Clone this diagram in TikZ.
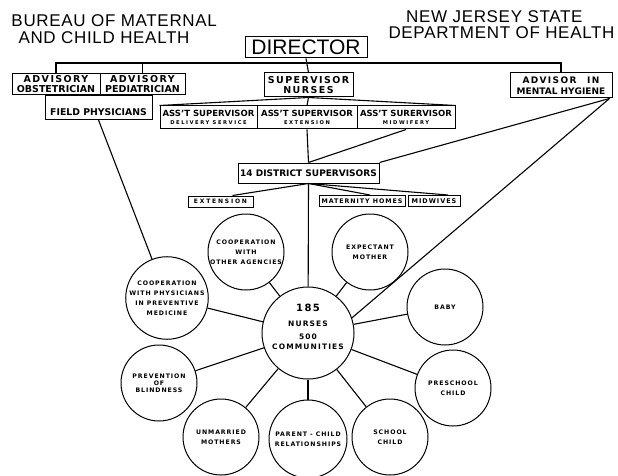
\documentclass[tikz,border=0pt]{standalone}
\usepackage{fontspec}
\setmainfont{DejaVu Sans}
\newfontfamily\titlefont[LetterSpace=4]{Liberation Sans}
\newfontfamily\dirfont{Liberation Sans}
\newfontfamily\spfont[LetterSpace=15]{DejaVu Sans}
\newfontfamily\spwide[LetterSpace=30]{DejaVu Sans}
\begin{document}
\begin{tikzpicture}[x=1pt,y=-1pt,line width=1pt,
  ttl/.style={inner sep=0pt,font=\titlefont\fontsize{17}{19}\selectfont},
  box/.style={draw,inner sep=0pt,align=center,font=\bfseries\fontsize{9.5}{10}\selectfont},
  asst/.style={draw,inner sep=0pt,align=center,minimum height=23pt,font=\bfseries\fontsize{8.5}{11}\selectfont},
  tag/.style={draw,inner sep=0pt,align=center,minimum height=11pt,font=\bfseries\fontsize{6.3}{7}\selectfont\spfont},
  circ/.style={draw,circle,minimum size=76pt,inner sep=0pt,align=center,font=\bfseries\fontsize{6.2}{10}\selectfont\spfont},
  wire/.style={line width=1.1pt}]
\useasboundingbox (0,0) rectangle (618,476);
% titles
\node[ttl,anchor=west] (t1) at (11,21) {BUREAU OF MATERNAL};
\node[ttl,anchor=west] (t2) at (18,38) {AND CHILD HEALTH};
\node[ttl,anchor=east] (t3) at (583,17) {NEW JERSEY STATE};
\node[ttl,anchor=east] (t4) at (615,33) {DEPARTMENT OF HEALTH};
% top level
\node[draw,minimum width=122pt,minimum height=21pt,inner sep=0pt,font=\dirfont\fontsize{21}{21}\selectfont] (dir) at (306,47.5) {DIRECTOR};
\node[box,minimum width=88pt,minimum height=21pt] (obs) at (56,84.5) {{\spfont ADVISORY}\\OBSTETRICIAN};
\node[box,minimum width=85pt,minimum height=21pt] (ped) at (142.5,84.5) {{\spfont ADVISORY}\\PEDIATRICIAN};
\node[box,minimum width=89pt,minimum height=24pt] (nurses) at (308.5,85) {\spfont SUPERVISOR\\\spfont NURSES};
\node[box,minimum width=102pt,minimum height=25pt,font=\bfseries\fontsize{9}{10.5}\selectfont] (adv) at (561,85.5) {{\spfont ADVISOR\hspace{1.2em}IN}\\MENTAL HYGIENE};
\node[draw,minimum width=107pt,minimum height=24pt,inner sep=0pt,anchor=north] (fp) at (98.5,95) {};
\node[inner sep=0pt,font=\bfseries\fontsize{9.3}{10}\selectfont] (fpt) at (98.5,112.5) {FIELD PHYSICIANS};
% assistant supervisors
\node[asst,minimum width=97pt] (a1) at (208.5,117.5) {ASS'T SUPERVISOR\\[-3pt]{\spwide\fontsize{5.2}{5.5}\selectfont DELIVERY SERVICE}};
\node[asst,minimum width=100pt] (a2) at (307,117.5) {ASS'T SUPERVISOR\\[-3pt]{\spwide\fontsize{5.2}{5.5}\selectfont EXTENSION}};
\node[asst,minimum width=98pt] (a3) at (406,117.5) {ASS'T SURERVISOR\\[-3pt]{\spwide\fontsize{5.2}{5.5}\selectfont MIDWIFERY}};
% district
\node[box,minimum width=141pt,minimum height=20pt,font=\bfseries\fontsize{9}{10}\selectfont] (dist) at (308.5,173) {14 DISTRICT SUPERVISORS};
\node[tag,minimum width=65pt,font=\bfseries\fontsize{6}{7}\selectfont\spwide] (ext) at (220.5,201.5) {EXTENSION};
\node[tag,minimum width=86pt] (mat) at (362,201) {MATERNITY HOMES};
\node[tag,minimum width=52pt,font=\bfseries\fontsize{6.5}{7}\selectfont\spfont] (mid) at (434,201) {MIDWIVES};
% circles
\node[circ,minimum size=92pt] (nur) at (308,333) {};
\node[inner sep=0pt,align=center,font=\bfseries\fontsize{7.5}{10}\selectfont\spfont] (nurt) at (308,326.5)
  {{\fontsize{10}{10}\selectfont 185}\\[5pt]NURSES\\[3pt]500\\COMMUNITIES};
\node[circ] (agen) at (246,252) {COOPERATION\\WITH\\OTHER AGENCIES};
\node[circ] (expe) at (370,252) {EXPECTANT\\MOTHER};
\node[circ] (phys) at (167,298) {COOPERATION\\WITH PHYSICIANS\\IN PREVENTIVE\\MEDICINE};
\node[circ] (blind) at (159,383) {PREVENTION\\[-3pt]OF\\[-3pt]BLINDNESS};
\node[circ] (unm) at (221,437) {UNMARRIED\\MOTHERS};
\node[circ,minimum size=78pt] (par) at (308,439) {PARENT - CHILD\\RELATIONSHIPS};
\node[circ] (sch) at (390,437) {SCHOOL\\CHILD};
\node[circ] (presc) at (453,388) {PRESCHOOL\\CHILD};
\node[circ] (baby) at (445,307) {BABY};
% connectors: top bus
\coordinate (bus) at (0,63);
\draw[wire] (dir.south) -- (nurses.north);
\draw[wire] (obs.north) -- (obs.north |- bus) -- (adv.north |- bus) -- (adv.north);
\draw[wire] (ped.north) -- (ped.north |- bus);
\draw[wire] (nurses.south) -- (a1.north west);
\draw[wire] (nurses.south) -- (a2.north);
\draw[wire] (nurses.south) -- (a3.north east);
\draw[wire] (a2.south) -- (dist.north);
\draw[wire] (a3.south) -- (dist.north);
\draw[wire] ([xshift=-3pt]adv.south east) -- (dist.north east);
\draw[wire] ([xshift=-3pt]adv.south east) -- (nur.19);
\draw[wire] (fp.south) -- (phys);
\draw[wire] (dist.south) -- ([xshift=12pt]ext.north);
\draw[wire] (dist.south) -- ([xshift=8pt]mat.north);
\draw[wire] (dist.south) -- ([xshift=14pt]mid.north);
\draw[wire] (dist.south) -- (nur);
\foreach \c in {agen,expe,phys,blind,unm,par,sch,presc,baby}
  \draw[wire] (nur) -- (\c);
\end{tikzpicture}
\end{document}
